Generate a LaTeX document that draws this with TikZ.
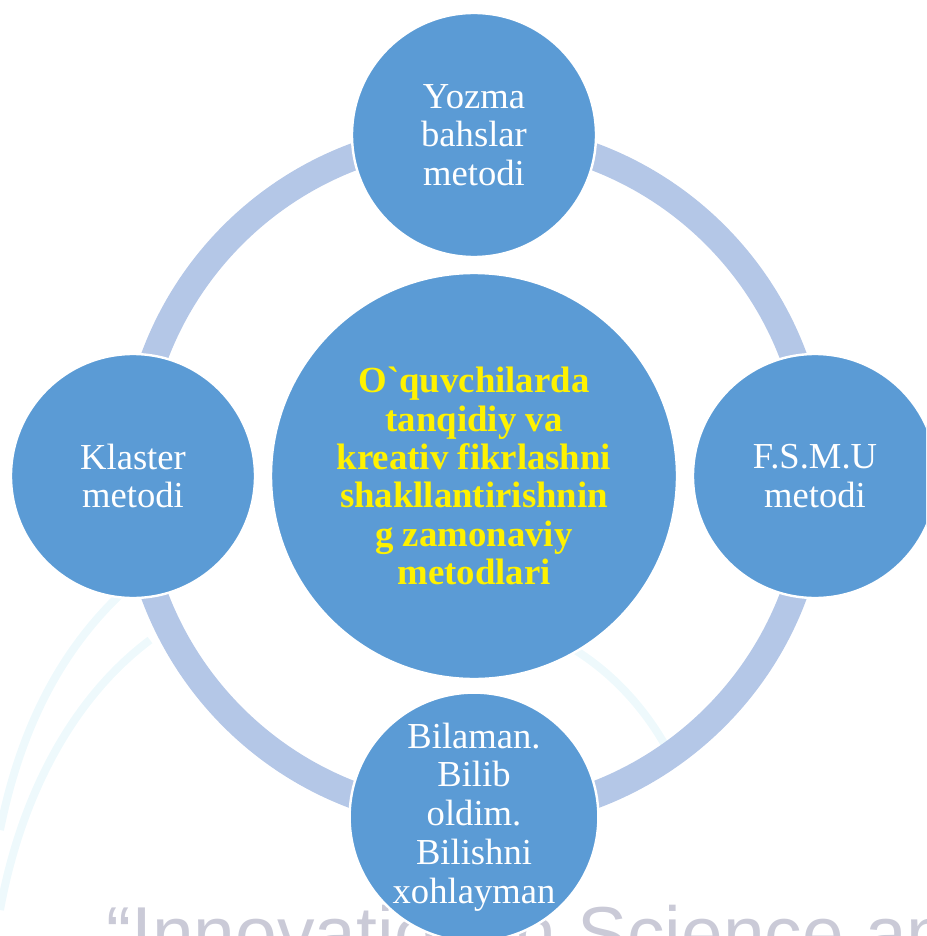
\documentclass[tikz,border=0pt]{standalone}
\usepackage{fontspec}
\setmainfont{Liberation Serif}
\setsansfont{Liberation Sans}
\usepackage{tikz}
\usetikzlibrary{shapes}
\usetikzlibrary{positioning}
\definecolor{circleblue}{RGB}{91,155,213}
\definecolor{ringblue}{RGB}{180,199,231}
\definecolor{markgray}{RGB}{202,202,215}
\definecolor{swooshcyan}{RGB}{238,249,252}

\begin{document}
\begin{tikzpicture}[x=0.5pt,y=-0.5pt,node distance=170.5pt]
\tikzstyle{hub}=[circle,draw=white,fill=circleblue,line width=1.2pt,
inner sep=0pt,minimum size=203pt,align=center,text=yellow,
font=\fontsize{18.4}{19.2}\selectfont\bfseries]
\tikzstyle{method}=[circle,draw=white,fill=circleblue,line width=1.2pt,
inner sep=0pt,minimum size=122pt,align=center,text=white,
font=\fontsize{18.3}{19.4}\selectfont]
\tikzstyle{ring}=[draw=ringblue,line width=13.5pt]
\tikzstyle{swoosh}=[draw=swooshcyan,line width=4pt]

\useasboundingbox (0,0) rectangle (926,936);
\clip (0,0) rectangle (926,936);

% faint slide background
\draw[swoosh] (0,830) .. controls (20,730) and (60,650) .. (125,590);
\draw[swoosh] (0,910) .. controls (20,800) and (70,700) .. (150,640);
\draw[swoosh] (575,650) .. controls (615,675) and (645,710) .. (665,745);
\node[text=markgray,anchor=base west,inner sep=0pt,
font=\sffamily\fontsize{37.5}{37.5}\selectfont] (banner) at (106,959)
{“Innovation in Science and};

\coordinate (middle) at (474,476);
\draw[ring] (middle) circle (170.5pt);

\node[hub] (center) at (middle) {O\textasciigrave quvchilarda\\tanqidiy va\\kreativ fikrlashni\\shakllantirishnin\\g zamonaviy\\metodlari};
\node[method] (yozma) [above of=center] {Yozma\\bahslar\\metodi};
\node[method] (klaster) [left of=center] {Klaster\\metodi};
\node[method] (fsmu) [right of=center] {F.S.M.U\\metodi};
\node[method] (bilaman) [below of=center] {Bilaman.\\Bilib\\oldim.\\Bilishni\\xohlayman};
\end{tikzpicture}
\end{document}
